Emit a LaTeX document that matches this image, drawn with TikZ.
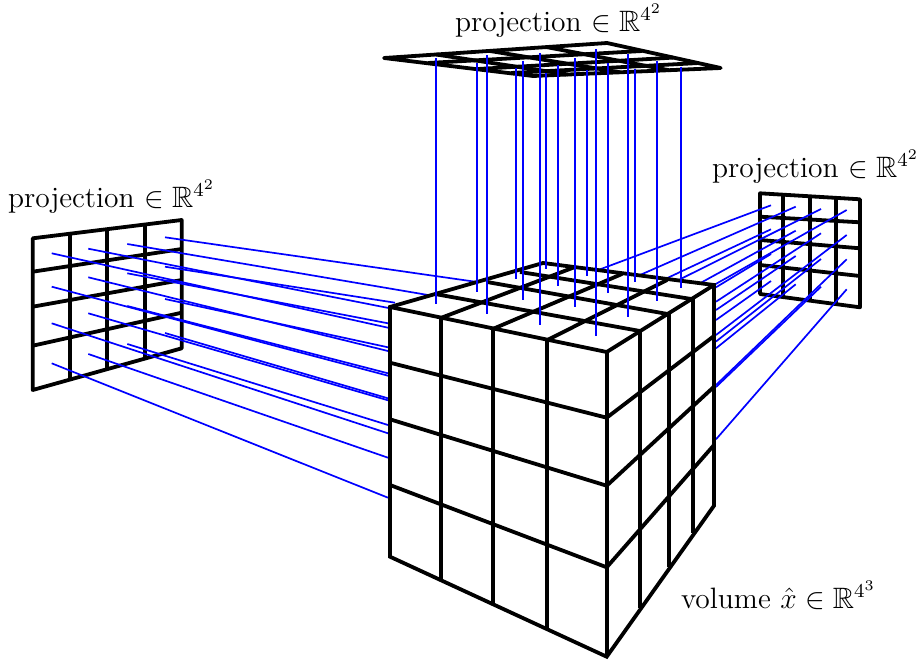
\documentclass[tikz,border=0pt]{standalone}
\usepackage{amssymb}
\tikzset{
  grid/.style={black,line width=3.8*0.407pt,line join=round},
  cubeline/.style={black,line width=3.8*0.407pt,line join=miter},
  ray/.style={blue,line width=1.7*0.407pt},
  lab/.style={anchor=base west,inner sep=0pt,outer sep=0pt,text=black,font=\large}
}
\begin{document}
\begin{tikzpicture}[x=0.407pt,y=-0.407pt]
\useasboundingbox (0,0) rectangle (922,661);
% left projection
\draw[grid] (32.7,238.3) -- (181.7,220) -- (181.7,348.3) -- (32.7,390) -- cycle;
\foreach \x/\a/\b in {70/233.7/379.6,107.3/229.1/369,145/224.5/358.6} \draw[grid] (\x,\a) -- (\x,\b);
\foreach \a/\b in {271.7/249,306.7/280,345.7/312.7} \draw[grid] (32.7,\a) -- (181.7,\b);
% right projection
\draw[grid] (760,193.3) -- (860,199.3) -- (860,307.3) -- (760,294) -- cycle;
\foreach \x/\a/\b in {783.3/194.7/297.1,810/196.3/300.7,836/197.9/304.1} \draw[grid] (\x,\a) -- (\x,\b);
\foreach \a/\b in {216.7/222.3,240/248.3,265/276} \draw[grid] (760,\a) -- (860,\b);
% rays from the left projection
\foreach \n/\ax/\ay/\bx/\by in {
 1/51.7/253.3/388/327.7, 2/51.7/286.7/388/375.7, 3/51.7/323.3/388/433.3, 4/51.7/363.3/388/497.7,
 5/88.3/248.7/390/308.3, 6/88.3/277.3/388/351, 7/88.3/313.3/388/400.3, 8/88.3/354/388/457.7,
 9/127.3/244/428/295, 10/127.3/273.3/388/323.3, 11/127.3/306/388/373.3, 12/127.3/344/388/425,
 13/165/237.3/475/281.7, 14/165/266.7/395/302.7, 15/165/299/388/347.3, 16/165/333/388/398.3}
 { \coordinate (la\n) at (\ax,\ay); \coordinate (lb\n) at (\bx,\by); \draw[ray] (la\n) -- (lb\n); }
% rays from the right projection
\foreach \n/\ax/\ay/\bx/\by in {
 1/771/205.3/598.3/270, 2/771/229.3/666.7/278.3, 3/771/254/716/287.3, 4/771/281/716/320,
 5/795.7/206.7/640/275, 6/795.7/230.7/701.7/282.3, 7/795.7/256/716/310, 8/795.7/284.3/716/348.3,
 9/821/209/680/279.3, 10/821/233.3/716/301.7, 11/821/259/716/341.5, 12/821/286.7/716/387,
 13/846.7/210/714/285, 14/846.7/235/716/335, 15/846.7/259.3/716/385, 16/846.7/289.3/716/439.3}
 { \coordinate (ra\n) at (\ax,\ay); \coordinate (rb\n) at (\bx,\by); \draw[ray] (ra\n) -- (rb\n); }
% cube
\coordinate (L) at (390,307); \coordinate (F) at (606.7,352); \coordinate (R) at (714,285); \coordinate (B) at (543,263);
\coordinate (LD) at (390,556.7); \coordinate (FD) at (606.7,656.7); \coordinate (RD) at (714,505.7);
\fill[white] (L) -- (B) -- (R) -- (RD) -- (FD) -- (LD) -- cycle;
\foreach \x/\a/\b in {440.7/318/579,492.7/329/605,547.3/340/629} \draw[cubeline] (\x,\a) -- (\x,\b);
\foreach \a/\b in {362.7/417.7,419.3/485.7,485/567.3} \draw[cubeline] (390,\a) -- (606.7,\b);
\foreach \x/\a/\b in {640/331/608,669.3/314.3/566.7,693.3/299.3/533.3} \draw[cubeline] (\x,\a) -- (\x,\b);
\foreach \a/\b in {417.7/336,485.7/386.7,567.3/445} \draw[cubeline] (606.7,\a) -- (714,\b);
\draw[cubeline] (435,294) -- (640,331);
\draw[cubeline] (487,282) -- (669.3,314.3);
\draw[cubeline] (520,272) -- (693.3,299.3);
\draw[cubeline] (440.7,318) -- (575,267);
\draw[cubeline] (492.7,329) -- (622,274);
\draw[cubeline] (547.3,340) -- (667,280);
\draw[cubeline] (L) -- (B) -- (R) -- (RD) -- (FD) -- (LD) -- cycle;
\draw[cubeline] (L) -- (F) -- (R);
\draw[cubeline] (F) -- (FD);
% top projection
\coordinate (TL) at (384,58); \coordinate (TT) at (607,43); \coordinate (TR) at (720.7,68); \coordinate (TB) at (533,76);
\draw[grid] (TL) -- (TT) -- (TR) -- (TB) -- cycle;
\draw[grid] (436,54.5) -- (568,74.5);
\draw[grid] (490,51) -- (620,72.3);
\draw[grid] (546,47) -- (669,70.2);
\draw[grid] (642,51) -- (428,63);
\draw[grid] (673,57.6) -- (478,69);
\draw[grid] (699,63) -- (511,73);
% vertical rays
\foreach \n/\x/\a/\b in {
 1/436/58/304.3, 2/477/63/291.7, 3/487/55/314.3, 4/516/68/279.3,
 5/523/60.7/300, 6/539.7/53/325, 7/545.7/72.7/269.3, 8/558.3/65/286,
 9/574.7/58/307.3, 10/586.7/70/275.7, 11/596/49/336, 12/608/63/293.3,
 13/628/54.3/316.7, 14/635/69/281.7, 15/656.7/60.7/300.7, 16/680.8/66.7/288.3}
 { \coordinate (ta\n) at (\x,\a); \coordinate (tb\n) at (\x,\b); \draw[ray] (ta\n) -- (tb\n); }
% labels
\node[lab] (toplabel) at (455,31) {projection $\in\mathbb{R}^{4^2}$};
\node[lab] (leftlabel) at (8,207) {projection $\in\mathbb{R}^{4^2}$};
\node[lab] (rightlabel) at (712,177) {projection $\in\mathbb{R}^{4^2}$};
\node[lab] (vollabel) at (681,608) {volume $\hat{x}\in\mathbb{R}^{4^3}$};
\end{tikzpicture}
\end{document}
